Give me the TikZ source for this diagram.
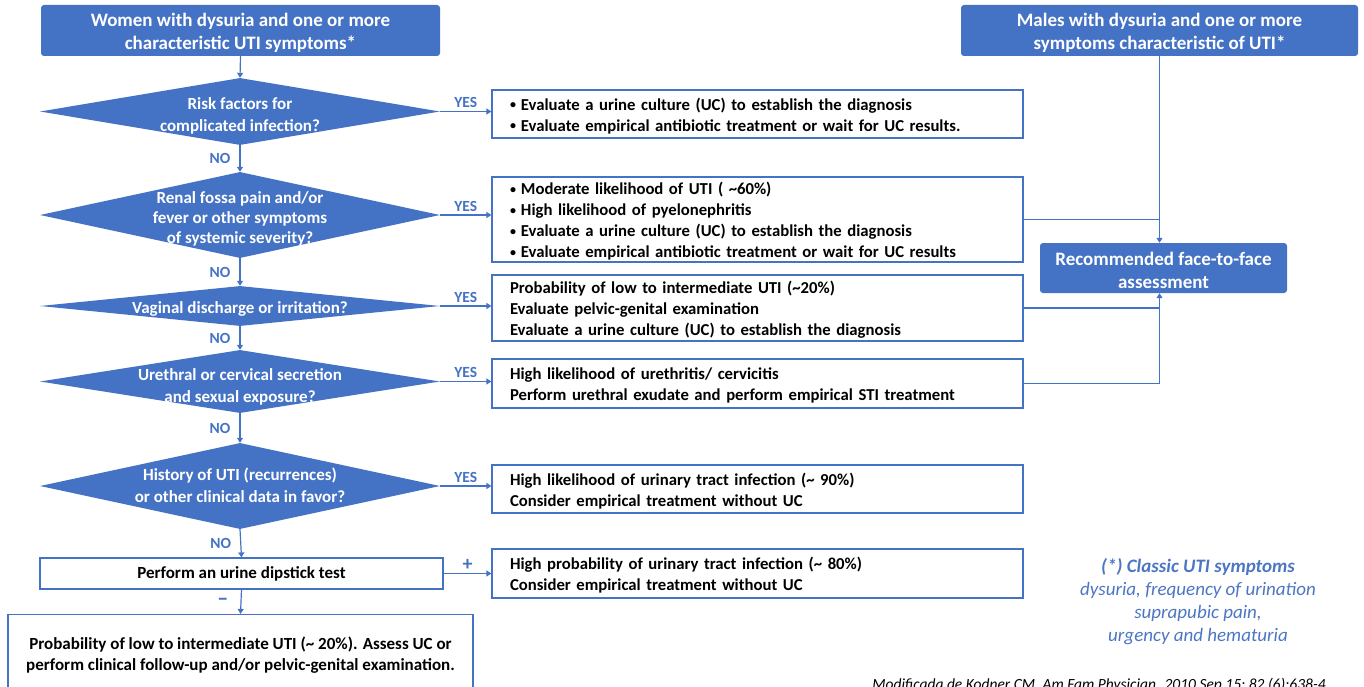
\documentclass[tikz,border=0pt]{standalone}
\usepackage{fontspec}
\setmainfont{Carlito}
\usetikzlibrary{shapes.geometric,arrows.meta,calc}
\definecolor{ublue}{RGB}{68,114,196}
\definecolor{lblue}{RGB}{76,118,196}
\newcommand\bul{{\fontsize{12}{12}\selectfont\raisebox{1.5pt}{•}}\hspace{5pt}}
\begin{document}
\begin{tikzpicture}[x=1pt,y=-1pt,
  hdr/.style={fill=ublue, rounded corners=3pt, inner sep=0pt},
  htxt/.style={text=white, align=center, inner sep=0pt, font=\fontsize{19}{23}\selectfont\bfseries},
  dia/.style={diamond, fill=ublue, inner sep=0pt, minimum width=400pt, minimum height=#1},
  dtxt/.style={text=white, align=center, inner sep=0pt, font=\fontsize{17}{22}\selectfont\bfseries},
  rbox/.style={draw=ublue, line width=1.2pt, fill=white, minimum width=531pt, inner sep=0pt},
  rtxt/.style={text width=495pt, align=left, inner sep=0pt, font=\fontsize{16.7}{21}\selectfont\bfseries},
  cbox/.style={draw=ublue, line width=1.2pt, fill=white, align=center, inner sep=0pt,
    font=\fontsize{17}{21}\selectfont\bfseries},
  lab/.style={text=ublue, inner sep=0pt, font=\fontsize{15.5}{17}\selectfont\bfseries},
  ln/.style={draw=ublue, line width=1.2pt},
  arr/.style={draw=ublue, line width=1.2pt, -{Triangle[length=5pt,width=6pt]}},
  note/.style={text=lblue, align=center, inner sep=0pt, font=\fontsize{19}{23}\selectfont\itshape}
]
\useasboundingbox (0,0) rectangle (1364,687);
\clip (0,0) rectangle (1364,687);

% headers
\node[hdr, minimum width=399pt, minimum height=51pt] (women) at (240.5,30.5) {};
\node[htxt] (womenT) at (240.5,33) {Women with dysuria and one or more\\characteristic UTI symptoms*};
\node[hdr, minimum width=397pt, minimum height=51pt] (males) at (1159.5,30.5) {};
\node[htxt] (malesT) at (1159.5,33) {Males with dysuria and one or more\\symptoms characteristic of UTI*};

% diamonds
\node[dia=67pt] (d1) at (240,111.5) {};
\node[dtxt] (t1) at (240,116) {Risk factors for\\complicated infection?};
\node[dia=86pt] (d2) at (240,215) {};
\node[dtxt, font=\fontsize{17}{20}\selectfont\bfseries] (t2) at (240,219) {Renal fossa pain and/or\\fever or other symptoms\\of systemic severity?};
\node[dia=40pt] (d3) at (240,306) {};
\node[dtxt] (t3) at (240,308.5) {Vaginal discharge or irritation?};
\node[dia=63pt] (d4) at (240,381.5) {};
\node[dtxt] (t4) at (240,387) {Urethral or cervical secretion\\and sexual exposure?};
\node[dia=86pt] (d5) at (240,486) {};
\node[dtxt] (t5) at (240,485.5) {History of UTI (recurrences)\\or other clinical data in favor?};

% dipstick and bottom
\node[cbox, minimum width=403pt, minimum height=31pt, text=black] (dip) at (241.5,573.5)
  {Perform an urine dipstick test};
\node[cbox, minimum width=465pt, minimum height=82pt, text=black] (low) at (240.5,655.5)
  {Probability of low to intermediate UTI (\textasciitilde{} 20\%). Assess UC or\\perform clinical follow-up and/or pelvic-genital examination.};

% right boxes
\node[rbox, minimum height=48pt] (b1) at (757.5,114) {};
\node[rtxt] (b1t) at (757.5,116)
  {\bul Evaluate a urine culture (UC) to establish the diagnosis\\\bul Evaluate empirical antibiotic treatment or wait for UC results.};
\node[rbox, minimum height=85pt] (b2) at (757.5,219.5) {};
\node[rtxt] (b2t) at (757.5,221.5)
  {\bul Moderate likelihood of UTI ( \textasciitilde60\%)\\\bul High likelihood of pyelonephritis\\\bul Evaluate a urine culture (UC) to establish the diagnosis\\\bul Evaluate empirical antibiotic treatment or wait for UC results};
\node[rbox, minimum height=66pt] (b3) at (757.5,308) {};
\node[rtxt] (b3t) at (757.5,310)
  {Probability of low to intermediate UTI (\textasciitilde20\%)\\Evaluate pelvic-genital examination\\Evaluate a urine culture (UC) to establish the diagnosis};
\node[rbox, minimum height=49pt] (b4) at (757.5,383.5) {};
\node[rtxt] (b4t) at (757.5,385.5)
  {High likelihood of urethritis/ cervicitis\\Perform urethral exudate and perform empirical STI treatment};
\node[rbox, minimum height=48pt] (b5) at (757.5,489) {};
\node[rtxt] (b5t) at (757.5,491)
  {High likelihood of urinary tract infection (\textasciitilde{} 90\%)\\Consider empirical treatment without UC};
\node[rbox, minimum height=49pt] (b6) at (757.5,573.5) {};
\node[rtxt] (b6t) at (757.5,575.5)
  {High probability of urinary tract infection (\textasciitilde{} 80\%)\\Consider empirical treatment without UC};

\node[hdr, minimum width=247pt, minimum height=50pt] (rec) at (1163.5,268) {};
\node[htxt] (recT) at (1163.5,270) {Recommended face-to-face\\assessment};

% vertical flow
\draw[arr] (women.south) -- (d1.north);
\draw[arr] (d1.south) -- node[lab, left=9pt] (n1) {NO} (d2.north);
\draw[arr] (d2.south) -- node[lab, left=9pt] (n2) {NO} (d3.north);
\draw[arr] (d3.south) -- node[lab, left=9pt] (n3) {NO} (d4.north);
\draw[arr] (d4.south) -- node[lab, left=9pt] (n4) {NO} (d5.north);
\draw[arr] (d5.south) -- node[lab, left=9pt] (n5) {NO} (dip.north);
\draw[arr] (dip.south) -- node[lab, left=12pt, font=\fontsize{22}{22}\selectfont\bfseries] (mn) {–} (low.north);

% yes arrows
\draw[arr] (d1.east) -- node[lab, above=3pt] (y1) {YES} (d1.east -| b1.west);
\draw[arr] (d2.east) -- node[lab, above=3pt] (y2) {YES} (d2.east -| b2.west);
\draw[arr] (d3.east) -- node[lab, above=3pt] (y3) {YES} (d3.east -| b3.west);
\draw[arr] (d4.east) -- node[lab, above=3pt] (y4) {YES} (d4.east -| b4.west);
\draw[arr] (d5.east) -- node[lab, above=3pt] (y5) {YES} (d5.east -| b5.west);
\draw[arr] (dip.east) -- node[lab, above=2pt, font=\fontsize{20}{20}\selectfont\bfseries] (pl) {+} (b6.west);

% right side connectors
\coordinate (vx) at (1159.5,0);
\draw[arr] (males.south) -- (males.south |- rec.north);
\draw[ln] (b2.east) -- (b2.east -| vx);
\coordinate (j3) at (b3.east -| vx);
\draw[arr] (b3.east) -- (j3) -- (j3 |- rec.south);
\draw[ln] (b4.east) -| (j3);

% notes
\node[note] (fn) at (1198,602)
  {\bfseries\itshape (*) Classic UTI symptoms\\dysuria, frequency of urination\\suprapubic pain,\\urgency and hematuria};
\node[inner sep=0pt, font=\fontsize{15.5}{17}\selectfont\itshape, anchor=base] (cite) at (1099,689)
  {Modificada de Kodner CM. Am Fam Physician. 2010 Sep 15; 82 (6):638-4};
\end{tikzpicture}
\end{document}
